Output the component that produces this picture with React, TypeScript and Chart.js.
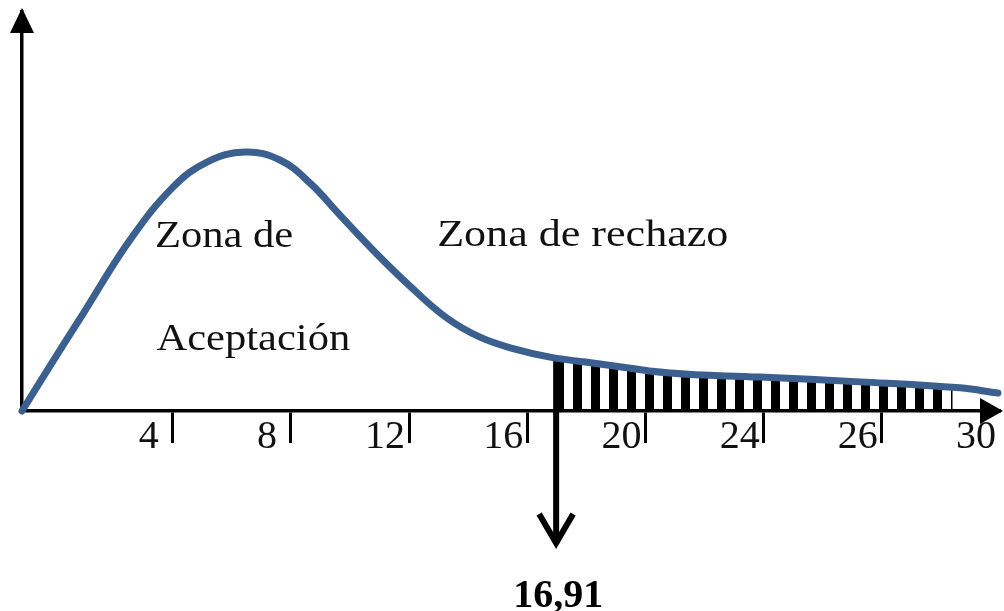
import React, { useEffect, useRef } from 'react';
import { Chart, registerables } from 'chart.js';

Chart.register(...registerables);

// Curve (x in chi-square units, y in arbitrary height units 0-100)
const curveX = [-1.1, -0.15, 0.96, 2.56, 4.01, 5.16, 6.45, 7.63, 8.65, 9.66, 10.85, 12.03, 13.28, 14.4, 15.59, 16.77, 18.46, 20.83, 23.87, 27.26, 30.64, 31.93];
const curveY = [0, 11.3, 24.3, 42.9, 56.1, 62.4, 64.9, 62.9, 57.1, 49.1, 39.8, 31.3, 23.3, 18.5, 15.5, 13.5, 11.8, 9.5, 8.5, 7.3, 5.8, 4.5];

// Hatched rejection region (from the critical value to the end of the hatching)
const hatchX = [16.91, 18.46, 20.83, 23.87, 27.26, 30.4];
const hatchY = [13.3, 11.8, 9.5, 8.5, 7.3, 5.9];

// Axis ticks
const tickValues = [4, 8, 12, 16, 20, 24, 28, 32];
const tickLabels = ['4', '8', '12', '16', '20', '24', '26', '30'];

const criticalValue = 16.91;
const criticalLabel = '16,91';
const zoneAcceptLine1 = 'Zona de';
const zoneAcceptLine2 = 'Aceptación';
const zoneReject = 'Zona de rechazo';

const SERIF = '"Liberation Serif", "Times New Roman", serif';

const decorPlugin = {
  id: 'decor',
  beforeDatasetsDraw(chart: any) {
    const { ctx, scales } = chart;
    const xs = scales.x;
    const ys = scales.y;
    const cx = xs.getPixelForValue(criticalValue) + 2;
    const top = ys.getPixelForValue(hatchY[0]);
    ctx.save();
    ctx.strokeStyle = '#000';
    ctx.lineWidth = 6;
    ctx.beginPath();
    ctx.moveTo(cx, top);
    ctx.lineTo(cx, 544);
    ctx.stroke();
    ctx.lineJoin = 'miter';
    ctx.beginPath();
    ctx.moveTo(cx - 17, 514);
    ctx.lineTo(cx, 543);
    ctx.lineTo(cx + 17, 514);
    ctx.stroke();
    ctx.restore();
  },
  afterDraw(chart: any) {
    const { ctx, scales, chartArea } = chart;
    const xs = scales.x;
    const ys = scales.y;
    ctx.save();
    ctx.fillStyle = '#000';
    // y-axis arrowhead
    ctx.beginPath();
    ctx.moveTo(chartArea.left, 8);
    ctx.lineTo(chartArea.left - 12, 33);
    ctx.lineTo(chartArea.left + 12, 33);
    ctx.closePath();
    ctx.fill();
    // x-axis arrowhead
    ctx.beginPath();
    ctx.moveTo(1003, chartArea.bottom);
    ctx.lineTo(980, chartArea.bottom - 13);
    ctx.lineTo(980, chartArea.bottom + 13);
    ctx.closePath();
    ctx.fill();

    // zone labels
    const drawStretched = (text: string, x: number, y: number, sx: number) => {
      ctx.save();
      ctx.translate(xs.getPixelForValue(x), ys.getPixelForValue(y));
      ctx.scale(sx, 1);
      ctx.font = '38px ' + SERIF;
      ctx.textAlign = 'left';
      ctx.textBaseline = 'alphabetic';
      ctx.fillStyle = '#111';
      ctx.fillText(text, 0, 0);
      ctx.restore();
    };
    drawStretched(zoneAcceptLine1, 3.4, 41.1, 1.12);
    drawStretched(zoneAcceptLine2, 3.45, 15.3, 1.12);
    drawStretched(zoneReject, 12.95, 41.3, 1.16);

    // critical value label
    ctx.font = 'bold 40px ' + SERIF;
    ctx.textAlign = 'center';
    ctx.textBaseline = 'alphabetic';
    ctx.fillStyle = '#000';
    ctx.fillText(criticalLabel, xs.getPixelForValue(criticalValue) + 4, 607);
    ctx.restore();
  },
};

function makeStripePattern(): CanvasPattern | string {
  const c = document.createElement('canvas');
  c.width = 18;
  c.height = 4;
  const g = c.getContext('2d');
  if (!g) return '#000';
  g.fillStyle = '#000';
  g.fillRect(15, 0, 3, 4);
  g.fillRect(0, 0, 6, 4);
  const p = g.createPattern(c, 'repeat');
  return p || '#000';
}

export default function App() {
  const canvasRef = useRef<HTMLCanvasElement | null>(null);

  useEffect(() => {
    if (!canvasRef.current) return;
    const pattern = makeStripePattern();
    const chart = new Chart(canvasRef.current, {
      type: 'line',
      data: {
        datasets: [
          {
            label: 'curve',
            data: curveX.map((x, i) => ({ x, y: curveY[i] })),
            borderColor: '#3B5F8E',
            borderWidth: 7,
            borderCapStyle: 'round',
            borderJoinStyle: 'round',
            pointRadius: 0,
            tension: 0.4,
            fill: false,
            clip: 10,
            order: 1,
          },
          {
            label: 'rechazo',
            data: hatchX.map((x, i) => ({ x, y: hatchY[i] })),
            borderWidth: 0,
            borderColor: 'rgba(0,0,0,0)',
            backgroundColor: pattern as any,
            pointRadius: 0,
            tension: 0.4,
            fill: 'origin',
            order: 2,
          },
        ],
      },
      options: {
        animation: false,
        responsive: true,
        maintainAspectRatio: false,
        layout: { padding: { left: 22, top: 12, right: 4, bottom: 0 } },
        plugins: {
          legend: { display: false },
          tooltip: { enabled: false },
          title: { display: false },
        },
        scales: {
          x: {
            type: 'linear',
            min: -1.1,
            max: 32,
            afterBuildTicks: (scale: any) => {
              scale.ticks = tickValues.map((v) => ({ value: v }));
            },
            afterFit: (scale: any) => {
              scale.height = 200;
            },
            border: { display: true, color: '#000', width: 3.5 },
            grid: {
              display: true,
              drawOnChartArea: false,
              drawTicks: true,
              tickLength: 32,
              tickWidth: 3,
              tickColor: (ctx: any) => (ctx.index === tickValues.length - 1 ? 'rgba(0,0,0,0)' : '#000'),
            },
            ticks: {
              autoSkip: false,
              maxRotation: 0,
              minRotation: 0,
              padding: -30,
              labelOffset: -24,
              color: '#111',
              font: { family: SERIF, size: 40 },
              callback: (_v: any, i: number) => tickLabels[i],
            },
          },
          y: {
            type: 'linear',
            min: 0,
            max: 100,
            afterFit: (scale: any) => {
              scale.width = 0;
            },
            border: { display: true, color: '#000', width: 3.5 },
            grid: { display: false },
            ticks: { display: false },
          },
        },
      },
      plugins: [decorPlugin],
    } as any);
    return () => chart.destroy();
  }, []);

  return (
    <div style={{ position: 'absolute', left: 0, top: 0, width: 1004, height: 611, background: '#fff' }}>
      <canvas ref={canvasRef} />
    </div>
  );
}
